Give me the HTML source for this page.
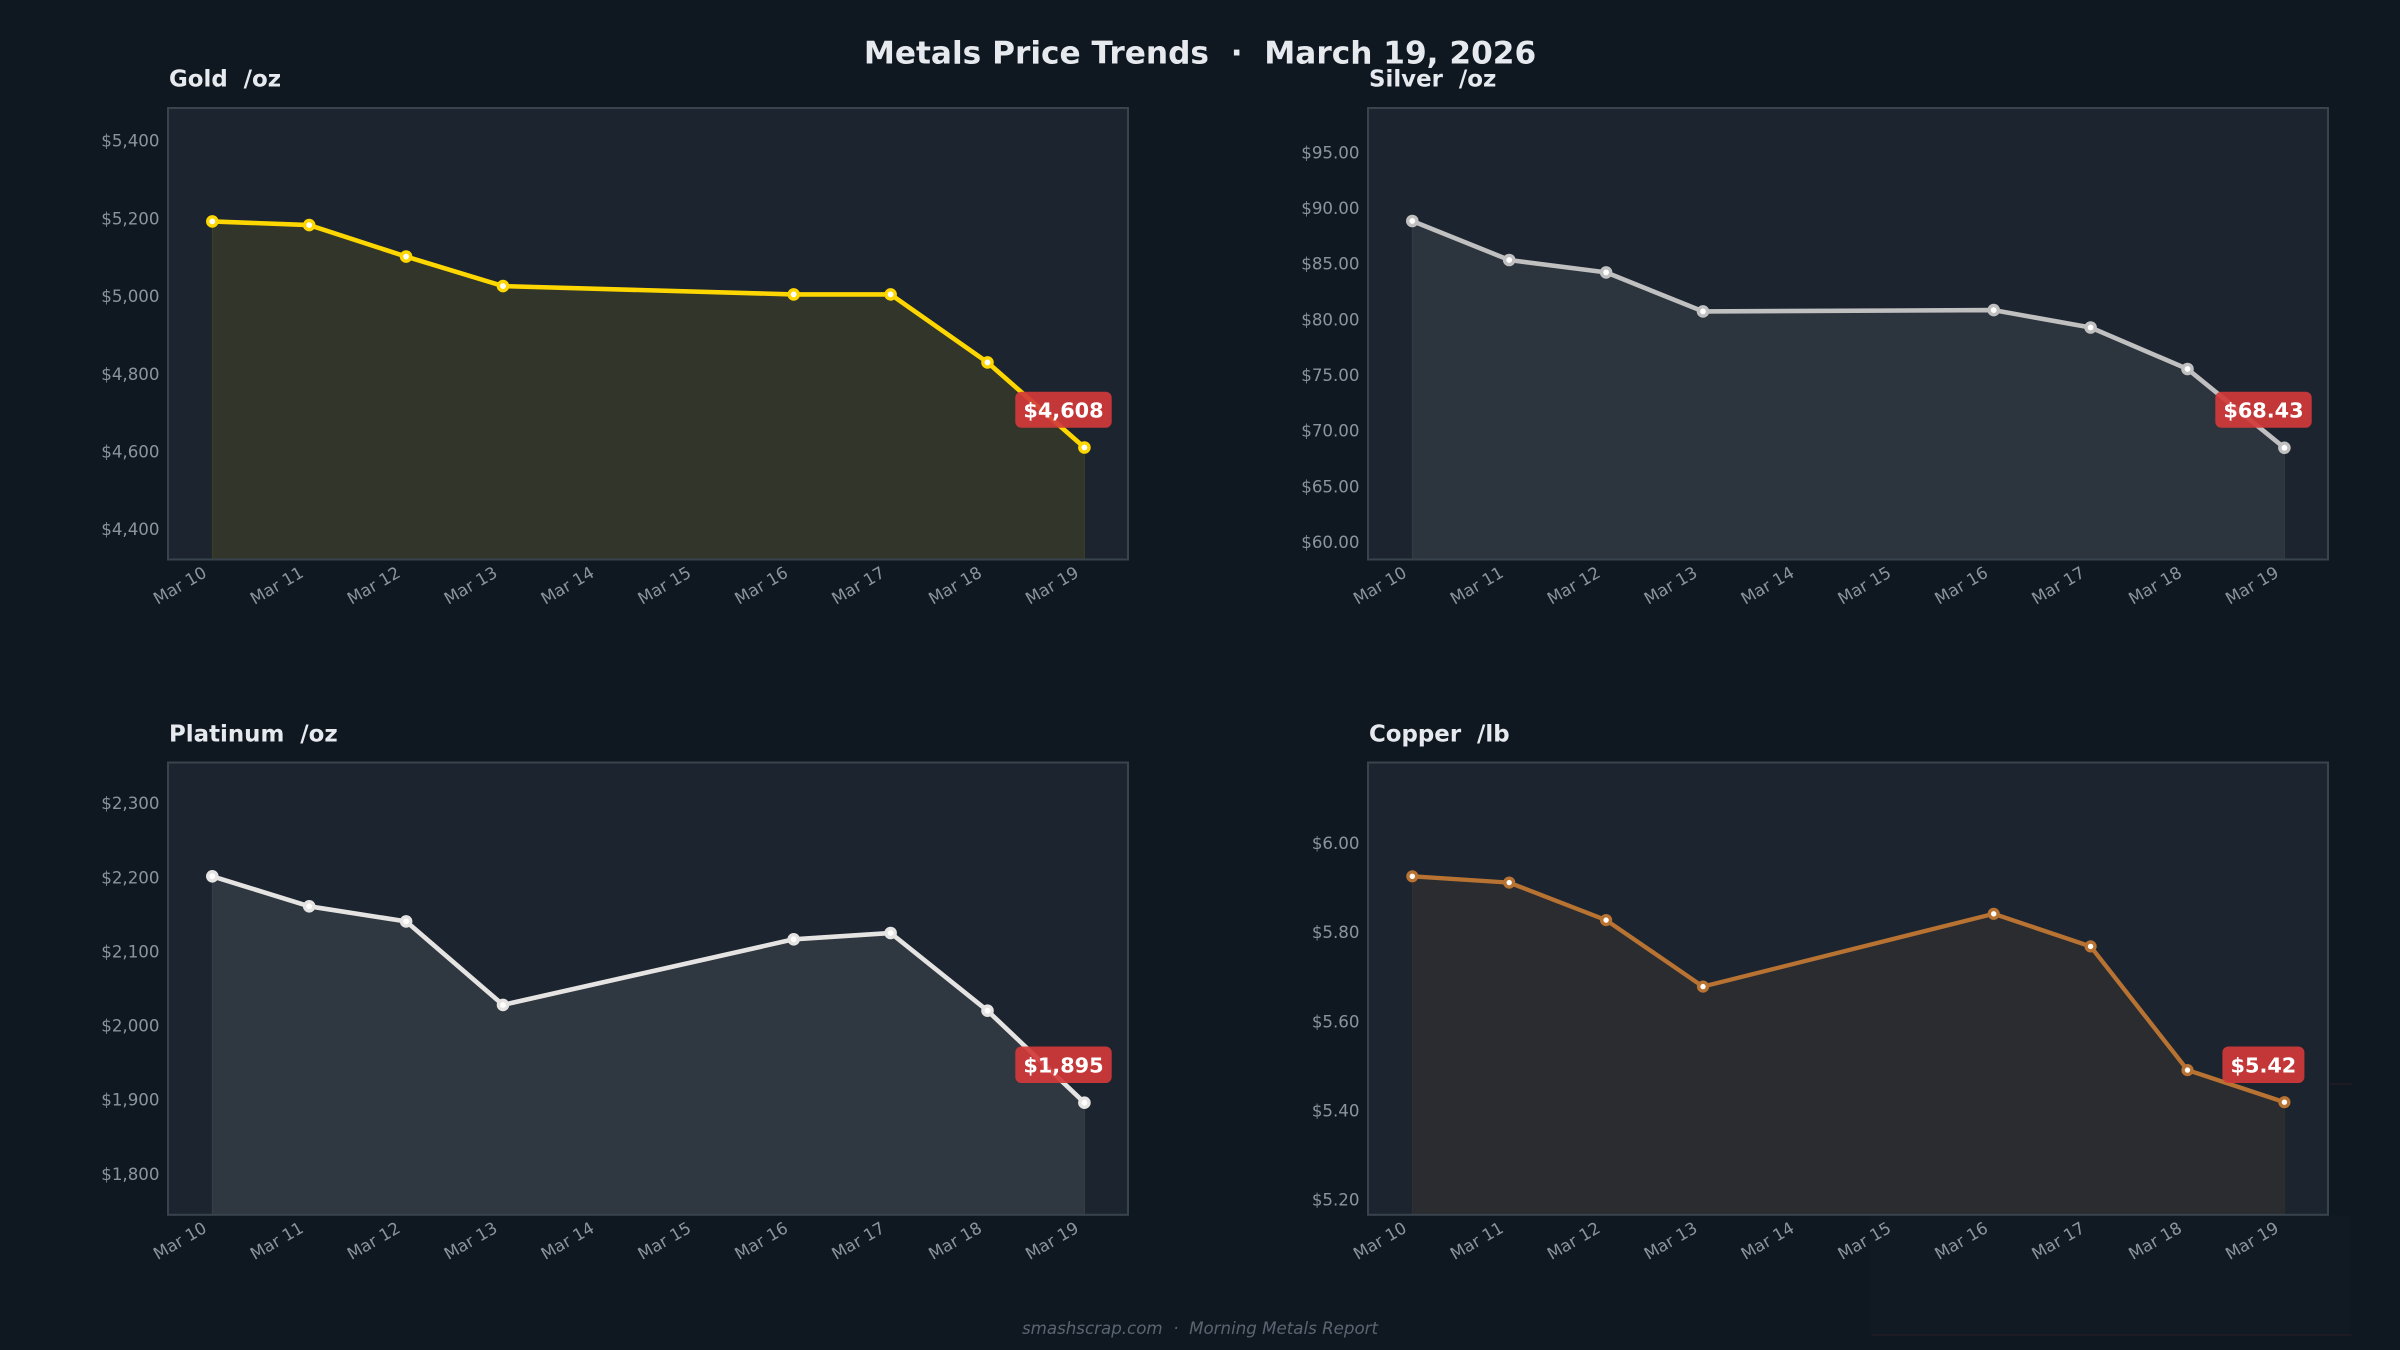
<!DOCTYPE html>
<html><head><meta charset="utf-8"><style>
html,body{margin:0;padding:0;background:#0f1720;}
svg{display:block;}
text{font-family:"DejaVu Sans","Liberation Sans",sans-serif;}
</style></head><body>
<svg width="2400" height="1350" viewBox="0 0 2400 1350" xmlns="http://www.w3.org/2000/svg" xml:space="preserve">
<rect x="0" y="0" width="2400" height="1350" fill="#0f1720"/>

<text x="1200" y="63.3" text-anchor="middle" font-size="31.2" font-weight="bold" fill="#e6e9ee" style="white-space:pre">Metals Price Trends  ·  March 19, 2026</text>

<!-- ========== GOLD ========== -->
<text x="169" y="86.7" font-size="22.9" font-weight="bold" fill="#e6e9ee" style="white-space:pre">Gold  /oz</text>
<rect x="168" y="108" width="960" height="451.5" fill="#1b242f"/>
<polygon points="212.3,221.4 309.2,225.1 406.1,256.6 503.0,286.1 793.7,294.4 890.6,294.4 987.5,362.4 1084.4,447.5 1084.4,559.5 212.3,559.5" fill="#ffd700" fill-opacity="0.10" stroke="#ffd700" stroke-opacity="0.10" stroke-width="1"/>
<polyline points="212.3,221.4 309.2,225.1 406.1,256.6 503.0,286.1 793.7,294.4 890.6,294.4 987.5,362.4 1084.4,447.5" fill="none" stroke="#ffd700" stroke-width="4.6" stroke-linejoin="round"/>
<g fill="#ffffff" stroke="#ffd700" stroke-width="3.4">
<circle cx="212.3" cy="221.4" r="4.6"/><circle cx="309.2" cy="225.1" r="4.6"/><circle cx="406.1" cy="256.6" r="4.6"/><circle cx="503.0" cy="286.1" r="4.6"/><circle cx="793.7" cy="294.4" r="4.6"/><circle cx="890.6" cy="294.4" r="4.6"/><circle cx="987.5" cy="362.4" r="4.6"/><circle cx="1084.4" cy="447.5" r="4.6"/>
</g>
<rect x="168" y="108" width="960" height="451.5" fill="none" stroke="#39434d" stroke-width="2"/>
<g font-size="16.67" fill="#8b949e" text-anchor="end">
<text x="159.5" y="146.7">$5,400</text><text x="159.5" y="224.4">$5,200</text><text x="159.5" y="302.1">$5,000</text><text x="159.5" y="379.8">$4,800</text><text x="159.5" y="457.5">$4,600</text><text x="159.5" y="535.2">$4,400</text>
</g>
<g font-size="16.67" fill="#8b949e" text-anchor="end">
<text transform="translate(207.8,576) rotate(-30)">Mar 10</text>
<text transform="translate(304.7,576) rotate(-30)">Mar 11</text>
<text transform="translate(401.6,576) rotate(-30)">Mar 12</text>
<text transform="translate(498.5,576) rotate(-30)">Mar 13</text>
<text transform="translate(595.4,576) rotate(-30)">Mar 14</text>
<text transform="translate(692.3,576) rotate(-30)">Mar 15</text>
<text transform="translate(789.2,576) rotate(-30)">Mar 16</text>
<text transform="translate(886.1,576) rotate(-30)">Mar 17</text>
<text transform="translate(983.0,576) rotate(-30)">Mar 18</text>
<text transform="translate(1079.9,576) rotate(-30)">Mar 19</text>
</g>
<rect x="1015.3" y="391.7" width="96.4" height="36" rx="6" fill="#d3393a" fill-opacity="0.92"/>
<text x="1063.5" y="417.3" text-anchor="middle" font-size="20.8" font-weight="bold" fill="#ffffff">$4,608</text>

<!-- ========== SILVER ========== -->
<text x="1369" y="86.7" font-size="22.9" font-weight="bold" fill="#e6e9ee" style="white-space:pre">Silver  /oz</text>
<rect x="1368" y="108" width="960" height="451.5" fill="#1b242f"/>
<polygon points="1412.3,221 1509.2,260 1606.1,272.4 1703.0,311.4 1993.7,310.1 2090.6,327.5 2187.5,369 2284.4,447.8 2284.4,559.5 1412.3,559.5" fill="#c0c0c0" fill-opacity="0.1" stroke="#c0c0c0" stroke-opacity="0.1" stroke-width="1"/>
<polyline points="1412.3,221 1509.2,260 1606.1,272.4 1703.0,311.4 1993.7,310.1 2090.6,327.5 2187.5,369 2284.4,447.8" fill="none" stroke="#c0c0c0" stroke-width="4.6" stroke-linejoin="round"/>
<g fill="#ffffff" stroke="#c0c0c0" stroke-width="3.4">
<circle cx="1412.3" cy="221" r="4.6"/><circle cx="1509.2" cy="260" r="4.6"/><circle cx="1606.1" cy="272.4" r="4.6"/><circle cx="1703.0" cy="311.4" r="4.6"/><circle cx="1993.7" cy="310.1" r="4.6"/><circle cx="2090.6" cy="327.5" r="4.6"/><circle cx="2187.5" cy="369" r="4.6"/><circle cx="2284.4" cy="447.8" r="4.6"/>
</g>
<rect x="1368" y="108" width="960" height="451.5" fill="none" stroke="#39434d" stroke-width="2"/>
<g font-size="16.67" fill="#8b949e" text-anchor="end">
<text x="1359.5" y="158.3">$95.00</text><text x="1359.5" y="214.0">$90.00</text><text x="1359.5" y="269.6">$85.00</text><text x="1359.5" y="325.3">$80.00</text><text x="1359.5" y="381.0">$75.00</text><text x="1359.5" y="436.6">$70.00</text><text x="1359.5" y="492.3">$65.00</text><text x="1359.5" y="548.0">$60.00</text>
</g>
<g font-size="16.67" fill="#8b949e" text-anchor="end">
<text transform="translate(1407.8,576) rotate(-30)">Mar 10</text>
<text transform="translate(1504.7,576) rotate(-30)">Mar 11</text>
<text transform="translate(1601.6,576) rotate(-30)">Mar 12</text>
<text transform="translate(1698.5,576) rotate(-30)">Mar 13</text>
<text transform="translate(1795.4,576) rotate(-30)">Mar 14</text>
<text transform="translate(1892.3,576) rotate(-30)">Mar 15</text>
<text transform="translate(1989.2,576) rotate(-30)">Mar 16</text>
<text transform="translate(2086.1,576) rotate(-30)">Mar 17</text>
<text transform="translate(2183.0,576) rotate(-30)">Mar 18</text>
<text transform="translate(2279.9,576) rotate(-30)">Mar 19</text>
</g>
<rect x="2215.3" y="391.7" width="96.4" height="36" rx="6" fill="#d3393a" fill-opacity="0.92"/>
<text x="2263.5" y="417.3" text-anchor="middle" font-size="20.8" font-weight="bold" fill="#ffffff">$68.43</text>

<!-- ========== PLATINUM ========== -->
<text x="169" y="741.5" font-size="22.9" font-weight="bold" fill="#e6e9ee" style="white-space:pre">Platinum  /oz</text>
<rect x="168" y="762.5" width="960" height="452.3" fill="#1b242f"/>
<polygon points="212.3,876.3 309.2,906.3 406.1,921.4 503.0,1004.9 793.7,939.3 890.6,933 987.5,1010.7 1084.4,1102.7 1084.4,1214.8 212.3,1214.8" fill="#e5e4e2" fill-opacity="0.1" stroke="#e5e4e2" stroke-opacity="0.1" stroke-width="1"/>
<polyline points="212.3,876.3 309.2,906.3 406.1,921.4 503.0,1004.9 793.7,939.3 890.6,933 987.5,1010.7 1084.4,1102.7" fill="none" stroke="#e5e4e2" stroke-width="4.6" stroke-linejoin="round"/>
<g fill="#ffffff" stroke="#e5e4e2" stroke-width="3.4">
<circle cx="212.3" cy="876.3" r="4.6"/><circle cx="309.2" cy="906.3" r="4.6"/><circle cx="406.1" cy="921.4" r="4.6"/><circle cx="503.0" cy="1004.9" r="4.6"/><circle cx="793.7" cy="939.3" r="4.6"/><circle cx="890.6" cy="933" r="4.6"/><circle cx="987.5" cy="1010.7" r="4.6"/><circle cx="1084.4" cy="1102.7" r="4.6"/>
</g>
<rect x="168" y="762.5" width="960" height="452.3" fill="none" stroke="#39434d" stroke-width="2"/>
<g font-size="16.67" fill="#8b949e" text-anchor="end">
<text x="159.5" y="809.2">$2,300</text><text x="159.5" y="883.3">$2,200</text><text x="159.5" y="957.4">$2,100</text><text x="159.5" y="1031.6">$2,000</text><text x="159.5" y="1105.7">$1,900</text><text x="159.5" y="1179.8">$1,800</text>
</g>
<g font-size="16.67" fill="#8b949e" text-anchor="end">
<text transform="translate(207.8,1231.3) rotate(-30)">Mar 10</text>
<text transform="translate(304.7,1231.3) rotate(-30)">Mar 11</text>
<text transform="translate(401.6,1231.3) rotate(-30)">Mar 12</text>
<text transform="translate(498.5,1231.3) rotate(-30)">Mar 13</text>
<text transform="translate(595.4,1231.3) rotate(-30)">Mar 14</text>
<text transform="translate(692.3,1231.3) rotate(-30)">Mar 15</text>
<text transform="translate(789.2,1231.3) rotate(-30)">Mar 16</text>
<text transform="translate(886.1,1231.3) rotate(-30)">Mar 17</text>
<text transform="translate(983.0,1231.3) rotate(-30)">Mar 18</text>
<text transform="translate(1079.9,1231.3) rotate(-30)">Mar 19</text>
</g>
<rect x="1015.3" y="1046.5" width="96.4" height="36.5" rx="6" fill="#d3393a" fill-opacity="0.92"/>
<text x="1063.5" y="1072.3" text-anchor="middle" font-size="20.8" font-weight="bold" fill="#ffffff">$1,895</text>

<!-- ========== COPPER ========== -->
<text x="1369" y="741.5" font-size="22.9" font-weight="bold" fill="#e6e9ee" style="white-space:pre">Copper  /lb</text>
<rect x="1368" y="762.5" width="960" height="452.3" fill="#1b242f"/>
<polygon points="1412.3,876.3 1509.2,882.6 1606.1,920.1 1703.0,986.6 1993.7,913.8 2090.6,946.4 2187.5,1070.1 2284.4,1102.2 2284.4,1214.8 1412.3,1214.8" fill="#b87333" fill-opacity="0.1" stroke="#b87333" stroke-opacity="0.1" stroke-width="1"/>
<polyline points="1412.3,876.3 1509.2,882.6 1606.1,920.1 1703.0,986.6 1993.7,913.8 2090.6,946.4 2187.5,1070.1 2284.4,1102.2" fill="none" stroke="#b87333" stroke-width="4.3" stroke-linejoin="round"/>
<g fill="#ffffff" stroke="#b87333" stroke-width="3.4">
<circle cx="1412.3" cy="876.3" r="4.4"/><circle cx="1509.2" cy="882.6" r="4.4"/><circle cx="1606.1" cy="920.1" r="4.4"/><circle cx="1703.0" cy="986.6" r="4.4"/><circle cx="1993.7" cy="913.8" r="4.4"/><circle cx="2090.6" cy="946.4" r="4.4"/><circle cx="2187.5" cy="1070.1" r="4.4"/><circle cx="2284.4" cy="1102.2" r="4.4"/>
</g>
<rect x="1368" y="762.5" width="960" height="452.3" fill="none" stroke="#39434d" stroke-width="2"/>
<g font-size="16.67" fill="#8b949e" text-anchor="end">
<text x="1359.5" y="849.0">$6.00</text><text x="1359.5" y="938.2">$5.80</text><text x="1359.5" y="1027.4">$5.60</text><text x="1359.5" y="1116.5">$5.40</text><text x="1359.5" y="1205.7">$5.20</text>
</g>
<g font-size="16.67" fill="#8b949e" text-anchor="end">
<text transform="translate(1407.8,1231.3) rotate(-30)">Mar 10</text>
<text transform="translate(1504.7,1231.3) rotate(-30)">Mar 11</text>
<text transform="translate(1601.6,1231.3) rotate(-30)">Mar 12</text>
<text transform="translate(1698.5,1231.3) rotate(-30)">Mar 13</text>
<text transform="translate(1795.4,1231.3) rotate(-30)">Mar 14</text>
<text transform="translate(1892.3,1231.3) rotate(-30)">Mar 15</text>
<text transform="translate(1989.2,1231.3) rotate(-30)">Mar 16</text>
<text transform="translate(2086.1,1231.3) rotate(-30)">Mar 17</text>
<text transform="translate(2183.0,1231.3) rotate(-30)">Mar 18</text>
<text transform="translate(2279.9,1231.3) rotate(-30)">Mar 19</text>
</g>
<rect x="2222.4" y="1046.5" width="82" height="36.5" rx="6" fill="#d3393a" fill-opacity="0.92"/>
<text x="2263.4" y="1072.3" text-anchor="middle" font-size="20.8" font-weight="bold" fill="#ffffff">$5.42</text>

<!-- faint ghost overlay -->
<rect x="1870" y="1216" width="480" height="119" fill="#ffffff" fill-opacity="0.012"/>
<line x1="1872" y1="1335" x2="2352" y2="1335" stroke="#c04040" stroke-opacity="0.12" stroke-width="1.5"/>
<line x1="2330" y1="1084" x2="2352" y2="1084" stroke="#c04040" stroke-opacity="0.12" stroke-width="1.5"/>

<!-- footer -->
<text x="1200" y="1334" text-anchor="middle" font-size="16.67" font-style="italic" fill="#5b6572" style="white-space:pre">smashscrap.com  ·  Morning Metals Report</text>
</svg>
</body></html>
